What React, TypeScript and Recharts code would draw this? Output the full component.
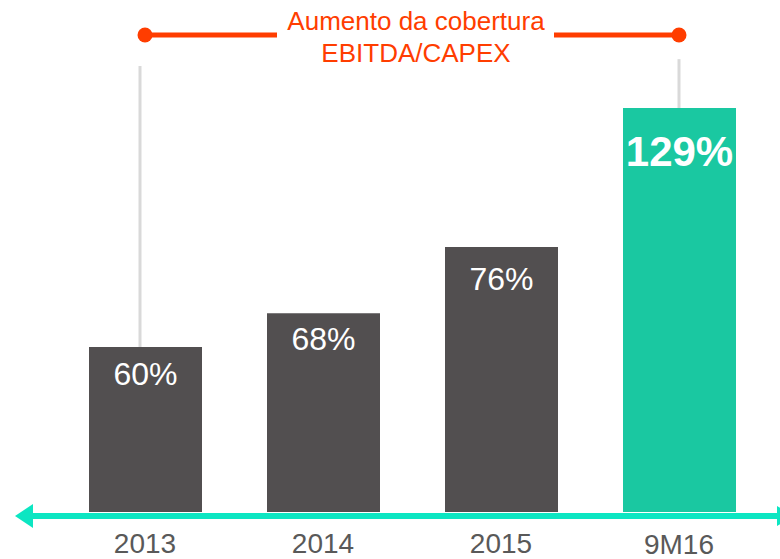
import React from 'react';
import {
  BarChart,
  Bar,
  XAxis,
  YAxis,
  Cell,
  LabelList,
  ReferenceLine,
  ReferenceDot,
} from 'recharts';

const categories = ['2013', '2014', '2015', '9M16'];
// coverage shown on the bars
const coverage = [60, 68, 76, 129];
// bar heights as drawn in the picture (9M16 bar = 129 units)
const drawnHeights = [52.7, 63.5, 84.6, 129];
const barColors = ['#524f50', '#524f50', '#524f50', '#1ac8a1'];
const titleLines = ['Aumento da cobertura', 'EBITDA/CAPEX'];

const ORANGE = '#ff3d00';
const TEAL_AXIS = '#0ce6c2';
const FONT = '"Liberation Sans", Arial, sans-serif';

const data = categories.map((c, i) => ({
  name: c,
  height: drawnHeights[i],
  label: `${coverage[i]}%`,
}));

// arrowed axis line, extended past the plot area on both sides
const AxisArrow = (props: any) => {
  const y = props.y1 + 4;
  return (
    <g>
      <line x1={28} y1={y} x2={780} y2={y} stroke={TEAL_AXIS} strokeWidth={6} />
      <polygon points={`15,${y} 33,${y - 12} 33,${y + 12}`} fill={TEAL_AXIS} />
      <polygon points={`777,${y - 10} 795,${y} 777,${y + 10}`} fill={TEAL_AXIS} />
    </g>
  );
};

// leader line sits a little left of the 2013 bar centre
const LeftLeader = (props: any) => (
  <line x1={props.x1 - 5} y1={props.y1} x2={props.x2 - 5} y2={props.y2} stroke="#d9d9d9" strokeWidth={3} />
);

const BracketTitle = (props: any) => {
  const vb = props.viewBox || {};
  const cx = vb.x + vb.width / 2;
  const cy = vb.y;
  return (
    <g>
      <rect x={cx - 135} y={cy - 8} width={277} height={16} fill="#fff" />
      <text x={cx + 4} y={cy - 5} textAnchor="middle" fill={ORANGE} fontSize={26} fontFamily={FONT}>
        {titleLines[0]}
      </text>
      <text x={cx + 4} y={cy + 27} textAnchor="middle" fill={ORANGE} fontSize={26} fontFamily={FONT}>
        {titleLines[1]}
      </text>
    </g>
  );
};

const labelOffsets = [38, 37, 43, 58];

const BarValueLabel = (props: any) => {
  const { x, y, width, value, index } = props;
  const last = index === categories.length - 1;
  return (
    <text
      x={x + width / 2}
      y={y + labelOffsets[index]}
      textAnchor="middle"
      fill="#fff"
      fontSize={last ? 42 : 32}
      fontWeight={last ? 'bold' : 'normal'}
      fontFamily={FONT}
    >
      {value}
    </text>
  );
};

const YearTick = (props: any) => {
  const { x, y, payload } = props;
  const extra = payload.value === '9M16' ? 1 : 0;
  return (
    <text x={x} y={y + 33 + extra} textAnchor="middle" fill="#595959" fontSize={28} fontFamily={FONT}>
      {payload.value}
    </text>
  );
};

export default function App() {
  return (
    <div style={{ position: 'absolute', left: 0, top: 0, width: 780, height: 559, background: '#fff' }}>
      <BarChart
        width={780}
        height={559}
        data={data}
        margin={{ top: 108, right: 12, left: 56, bottom: 0 }}
        barSize={113}
      >
        <XAxis
          dataKey="name"
          axisLine={false}
          tickLine={false}
          height={47}
          interval={0}
          tick={<YearTick />}
        />
        <YAxis hide domain={[0, 129]} />
        {/* gray leader lines from the bracket ends */}
        <ReferenceLine
          segment={[{ x: '2013', y: 142.4 }, { x: '2013', y: 52.7 }]}
          ifOverflow="visible"
          shape={<LeftLeader />}
        />
        <ReferenceLine
          segment={[{ x: '9M16', y: 144.6 }, { x: '9M16', y: 129 }]}
          stroke="#d9d9d9"
          strokeWidth={3}
          ifOverflow="visible"
        />
        <Bar dataKey="height" isAnimationActive={false}>
          {data.map((d, i) => (
            <Cell key={d.name} fill={barColors[i]} />
          ))}
          <LabelList dataKey="label" content={<BarValueLabel />} />
        </Bar>
        <ReferenceLine y={0} ifOverflow="visible" shape={<AxisArrow />} />
        <ReferenceLine
          segment={[{ x: '2013', y: 152.3 }, { x: '9M16', y: 152.3 }]}
          stroke={ORANGE}
          strokeWidth={5}
          ifOverflow="visible"
          label={<BracketTitle />}
        />
        <ReferenceDot x="2013" y={152.3} r={7.5} fill={ORANGE} stroke="none" ifOverflow="visible" />
        <ReferenceDot x="9M16" y={152.3} r={7.5} fill={ORANGE} stroke="none" ifOverflow="visible" />
      </BarChart>
    </div>
  );
}
